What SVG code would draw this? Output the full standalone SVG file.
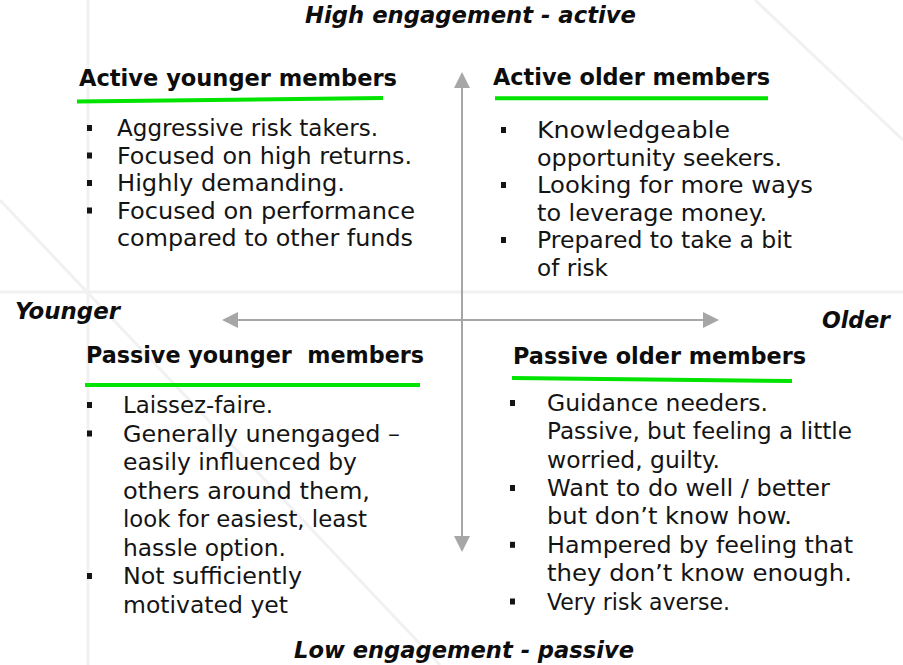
<svg xmlns="http://www.w3.org/2000/svg" width="903" height="665" viewBox="0 0 903 665">
  <defs>
    <style>
      .axis { font-family: "DejaVu Sans", "Liberation Sans", sans-serif; font-weight: bold; font-style: italic; font-size: 22.5px; fill: #0d0d0d; }
      .head { font-family: "DejaVu Sans", "Liberation Sans", sans-serif; font-weight: bold; font-size: 22.5px; fill: #0d0d0d; }
      .item { font-family: "DejaVu Sans", "Liberation Sans", sans-serif; font-size: 23.5px; fill: #141414; }
      .rule { stroke: #00e400; stroke-width: 4; stroke-linecap: butt; }
      .bullet { fill: #141414; }
      .axisline { stroke: #a6a6a6; stroke-width: 2; fill: none; marker-start: url(#head); marker-end: url(#head); }
      .faint { stroke: #f1f1f1; stroke-width: 3; fill: none; }
    </style>
    <marker id="head" markerUnits="userSpaceOnUse" markerWidth="16" markerHeight="16" refX="0" refY="8" orient="auto-start-reverse">
      <path d="M0,0 L16,8 L0,16 Z" fill="#a6a6a6"/>
    </marker>
  </defs>

  <rect width="903" height="665" fill="#ffffff"/>

  <!-- faint background guide lines -->
  <g id="backdrop">
    <line class="faint" x1="88" y1="0" x2="88" y2="665"/>
    <line class="faint" x1="0" y1="292" x2="903" y2="292"/>
    <line class="faint" x1="0" y1="200" x2="440" y2="665"/>
    <line class="faint" x1="755" y1="0" x2="903" y2="140"/>
  </g>

  <!-- axes -->
  <g id="connectors">
    <line class="axisline" x1="462" y1="88" x2="462" y2="536"/>
    <line class="axisline" x1="238" y1="320" x2="703" y2="320"/>
  </g>

  <!-- axis labels -->
  <g id="label-high"><text class="axis" x="305" y="23" textLength="331" lengthAdjust="spacingAndGlyphs">High engagement - active</text></g>
  <g id="label-low"><text class="axis" x="294" y="658" textLength="340" lengthAdjust="spacingAndGlyphs">Low engagement - passive</text></g>
  <g id="label-younger"><text class="axis" x="15" y="319" textLength="105" lengthAdjust="spacingAndGlyphs">Younger</text></g>
  <g id="label-older"><text class="axis" x="822" y="328" textLength="68" lengthAdjust="spacingAndGlyphs">Older</text></g>

  <!-- quadrant: active younger -->
  <g id="active-younger">
    <text class="head" x="79" y="86" textLength="318" lengthAdjust="spacingAndGlyphs">Active younger members</text>
    <line class="rule" x1="77" y1="101.5" x2="383" y2="98"/>
    <rect class="bullet" x="87" y="125" width="5" height="6"/>
    <rect class="bullet" x="87" y="152.5" width="5" height="6"/>
    <rect class="bullet" x="87" y="180" width="5" height="6"/>
    <rect class="bullet" x="87" y="207.5" width="5" height="6"/>
    <text class="item" x="117" y="136" textLength="261" lengthAdjust="spacingAndGlyphs">Aggressive risk takers.</text>
    <text class="item" x="117" y="163.5" textLength="295" lengthAdjust="spacingAndGlyphs">Focused on high returns.</text>
    <text class="item" x="117" y="191" textLength="228" lengthAdjust="spacingAndGlyphs">Highly demanding.</text>
    <text class="item" x="117" y="218.5" textLength="298" lengthAdjust="spacingAndGlyphs">Focused on performance</text>
    <text class="item" x="117" y="246" textLength="296" lengthAdjust="spacingAndGlyphs">compared to other funds</text>
  </g>

  <!-- quadrant: active older -->
  <g id="active-older">
    <text class="head" x="493" y="85" textLength="277" lengthAdjust="spacingAndGlyphs">Active older members</text>
    <line class="rule" x1="495" y1="98.3" x2="768" y2="98.3"/>
    <rect class="bullet" x="501" y="127" width="5" height="6"/>
    <rect class="bullet" x="501" y="182" width="5" height="6"/>
    <rect class="bullet" x="501" y="237" width="5" height="6"/>
    <text class="item" x="537" y="138" textLength="193" lengthAdjust="spacingAndGlyphs">Knowledgeable</text>
    <text class="item" x="537" y="165.5" textLength="245" lengthAdjust="spacingAndGlyphs">opportunity seekers.</text>
    <text class="item" x="537" y="193" textLength="276" lengthAdjust="spacingAndGlyphs">Looking for more ways</text>
    <text class="item" x="537" y="220.5" textLength="230" lengthAdjust="spacingAndGlyphs">to leverage money.</text>
    <text class="item" x="537" y="248" textLength="255" lengthAdjust="spacingAndGlyphs">Prepared to take a bit</text>
    <text class="item" x="537" y="275.5" textLength="71" lengthAdjust="spacingAndGlyphs">of risk</text>
  </g>

  <!-- quadrant: passive younger -->
  <g id="passive-younger">
    <text class="head" x="86" y="363" textLength="338" lengthAdjust="spacingAndGlyphs" xml:space="preserve">Passive younger  members</text>
    <line class="rule" x1="85" y1="385" x2="420" y2="385"/>
    <rect class="bullet" x="87" y="402" width="5" height="6"/>
    <rect class="bullet" x="87" y="430.5" width="5" height="6"/>
    <rect class="bullet" x="87" y="573" width="5" height="6"/>
    <text class="item" x="123" y="413" textLength="150" lengthAdjust="spacingAndGlyphs">Laissez-faire.</text>
    <text class="item" x="123" y="441.5" textLength="277" lengthAdjust="spacingAndGlyphs">Generally unengaged –</text>
    <text class="item" x="123" y="470" textLength="234" lengthAdjust="spacingAndGlyphs">easily influenced by</text>
    <text class="item" x="123" y="498.5" textLength="247" lengthAdjust="spacingAndGlyphs">others around them,</text>
    <text class="item" x="123" y="527" textLength="244" lengthAdjust="spacingAndGlyphs">look for easiest, least</text>
    <text class="item" x="123" y="555.5" textLength="163" lengthAdjust="spacingAndGlyphs">hassle option.</text>
    <text class="item" x="123" y="584" textLength="179" lengthAdjust="spacingAndGlyphs">Not sufficiently</text>
    <text class="item" x="123" y="612.5" textLength="165" lengthAdjust="spacingAndGlyphs">motivated yet</text>
  </g>

  <!-- quadrant: passive older -->
  <g id="passive-older">
    <text class="head" x="513" y="364" textLength="293" lengthAdjust="spacingAndGlyphs">Passive older members</text>
    <line class="rule" x1="512" y1="378" x2="792" y2="381"/>
    <rect class="bullet" x="510" y="400" width="5" height="6"/>
    <rect class="bullet" x="510" y="485" width="5" height="6"/>
    <rect class="bullet" x="510" y="541.8" width="5" height="6"/>
    <rect class="bullet" x="510" y="598.5" width="5" height="6"/>
    <text class="item" x="547" y="411" textLength="221" lengthAdjust="spacingAndGlyphs">Guidance needers.</text>
    <text class="item" x="547" y="439.4" textLength="305" lengthAdjust="spacingAndGlyphs">Passive, but feeling a little</text>
    <text class="item" x="547" y="467.7" textLength="173" lengthAdjust="spacingAndGlyphs">worried, guilty.</text>
    <text class="item" x="547" y="496" textLength="283" lengthAdjust="spacingAndGlyphs">Want to do well / better</text>
    <text class="item" x="547" y="524.4" textLength="245" lengthAdjust="spacingAndGlyphs">but don’t know how.</text>
    <text class="item" x="547" y="552.8" textLength="306" lengthAdjust="spacingAndGlyphs">Hampered by feeling that</text>
    <text class="item" x="547" y="581.1" textLength="305" lengthAdjust="spacingAndGlyphs">they don’t know enough.</text>
    <text class="item" x="547" y="609.5" textLength="183" lengthAdjust="spacingAndGlyphs">Very risk averse.</text>
  </g>
</svg>
